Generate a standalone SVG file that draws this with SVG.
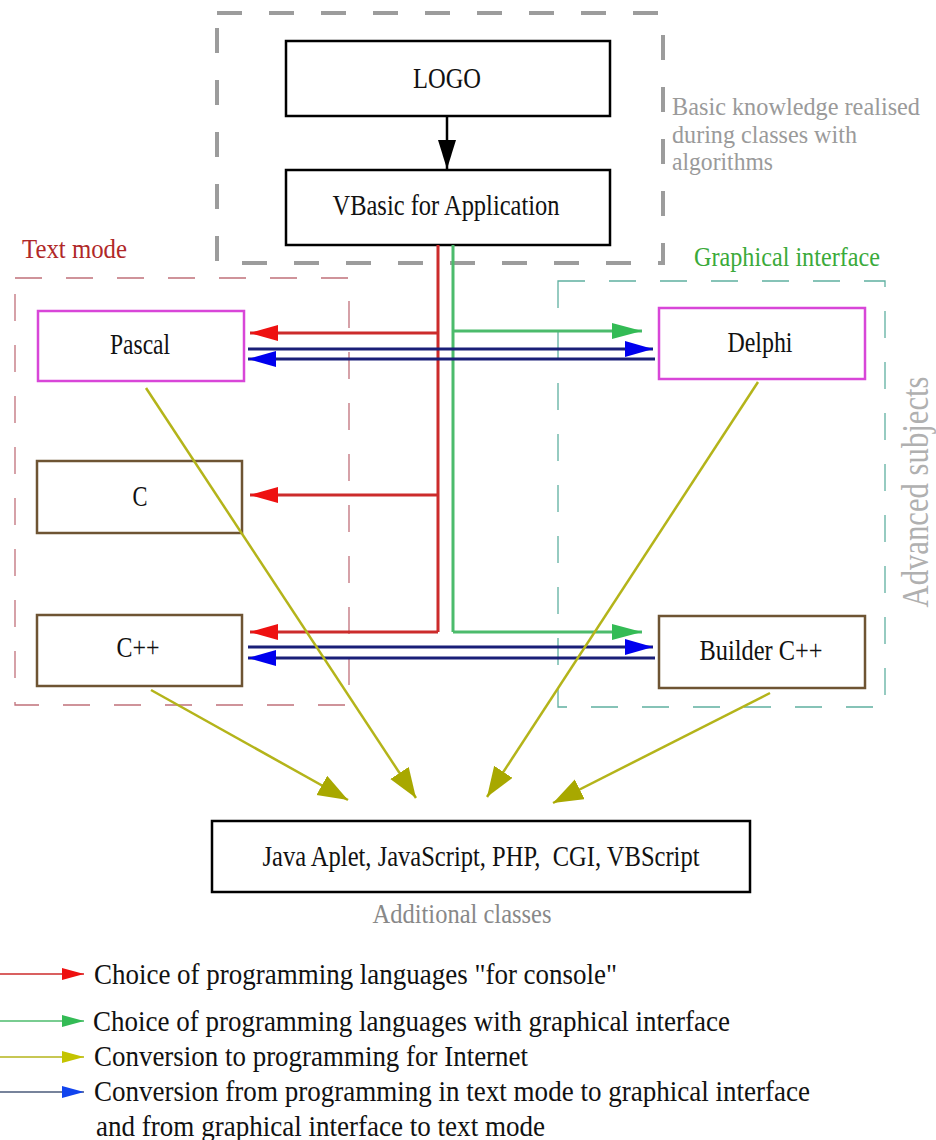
<svg xmlns="http://www.w3.org/2000/svg" width="936" height="1140" viewBox="0 0 936 1140">
<style>
text{font-family:"Liberation Serif","Times New Roman",serif;}
.lbl{font-size:30px;fill:#111;text-anchor:middle;}
.node{fill:#fff;stroke-width:2.5;}
.blk{stroke:#000;}
.mag{stroke:#d846d8;}
.brn{stroke:#6e5433;}
.red{stroke:#cc2b2b;stroke-width:3;fill:none;}
.grn{stroke:#4cbb6c;stroke-width:3;fill:none;}
.blu{stroke:#1a1f78;stroke-width:3;fill:none;}
.olv{stroke:#b4b41a;stroke-width:2.5;fill:none;}
.leg{font-size:29px;fill:#111;}
</style>
<defs>
<marker id="aRed" markerUnits="userSpaceOnUse" markerWidth="30" markerHeight="18" refX="28" refY="8" orient="auto"><path d="M0,0 L28,8 L0,16 z" fill="#ee1111"/></marker>
<marker id="aGrn" markerUnits="userSpaceOnUse" markerWidth="32" markerHeight="18" refX="30" refY="8" orient="auto"><path d="M0,0 L30,8 L0,16 z" fill="#33bb55"/></marker>
<marker id="aBlu" markerUnits="userSpaceOnUse" markerWidth="30" markerHeight="18" refX="28" refY="8" orient="auto"><path d="M0,0 L28,8 L0,16 z" fill="#0000ee"/></marker>
<marker id="aOlv" markerUnits="userSpaceOnUse" markerWidth="32" markerHeight="24" refX="30" refY="11" orient="auto"><path d="M0,0 L30,11 L0,22 z" fill="#a8a800"/></marker>
<marker id="aBlk" markerUnits="userSpaceOnUse" markerWidth="32" markerHeight="20" refX="29" refY="9" orient="auto"><path d="M0,0 L29,9 L0,18 z" fill="#000"/></marker>
<marker id="lRed" markerUnits="userSpaceOnUse" markerWidth="24" markerHeight="14" refX="22" refY="6" orient="auto"><path d="M0,0 L22,6 L0,12 z" fill="#ee1111"/></marker>
<marker id="lGrn" markerUnits="userSpaceOnUse" markerWidth="24" markerHeight="14" refX="22" refY="6" orient="auto"><path d="M0,0 L22,6 L0,12 z" fill="#33bb55"/></marker>
<marker id="lOlv" markerUnits="userSpaceOnUse" markerWidth="24" markerHeight="14" refX="22" refY="6" orient="auto"><path d="M0,0 L22,6 L0,12 z" fill="#c4c400"/></marker>
<marker id="lBlu" markerUnits="userSpaceOnUse" markerWidth="24" markerHeight="14" refX="22" refY="6" orient="auto"><path d="M0,0 L22,6 L0,12 z" fill="#1144ee"/></marker>
</defs>
<rect width="936" height="1140" fill="#fff"/>

<g id="groups">
<rect x="217" y="13" width="446" height="250" fill="none" stroke="#9c9c9c" stroke-width="4" stroke-dasharray="25 27"/>
<rect x="15" y="278" width="334" height="427" fill="none" stroke="#c0707a" stroke-width="1.3" stroke-dasharray="27 24"/>
<rect x="558" y="281" width="327" height="426" fill="none" stroke="#5fb0a0" stroke-width="1.3" stroke-dasharray="27 24"/>
<text x="22" y="258" font-size="27" fill="#b02828" textLength="105" lengthAdjust="spacingAndGlyphs">Text mode</text>
<text x="694" y="266" font-size="27" fill="#3aaa3a" textLength="186" lengthAdjust="spacingAndGlyphs">Graphical interface</text>
<text transform="translate(928,492) rotate(-90)" font-size="38" fill="#b0b0b0" text-anchor="middle" textLength="231" lengthAdjust="spacingAndGlyphs">Advanced subjects</text>
<text x="672" y="115" font-size="26" fill="#9a9a9a" textLength="248" lengthAdjust="spacingAndGlyphs">Basic knowledge realised</text>
<text x="672" y="143" font-size="26" fill="#9a9a9a" textLength="185" lengthAdjust="spacingAndGlyphs">during classes with</text>
<text x="672" y="170" font-size="26" fill="#9a9a9a" textLength="101" lengthAdjust="spacingAndGlyphs">algorithms</text>
<text x="462" y="923" font-size="27" fill="#888" text-anchor="middle" textLength="179" lengthAdjust="spacingAndGlyphs">Additional classes</text>
</g>

<g id="n-logo"><rect class="node blk" x="286" y="41" width="324" height="75"/><text class="lbl" x="447" y="88" textLength="68" lengthAdjust="spacingAndGlyphs">LOGO</text></g>
<g id="n-vba"><rect class="node blk" x="286" y="170" width="324" height="75"/><text class="lbl" x="446" y="215" textLength="227" lengthAdjust="spacingAndGlyphs">VBasic for Application</text></g>
<g id="n-pascal"><rect class="node mag" x="38" y="311" width="206" height="70"/><text class="lbl" x="140" y="354" textLength="60" lengthAdjust="spacingAndGlyphs">Pascal</text></g>
<g id="n-c"><rect class="node brn" x="37" y="461" width="205" height="72"/><text class="lbl" x="140" y="506" textLength="15" lengthAdjust="spacingAndGlyphs">C</text></g>
<g id="n-cpp"><rect class="node brn" x="37" y="615" width="205" height="71"/><text class="lbl" x="138" y="657" textLength="43" lengthAdjust="spacingAndGlyphs">C++</text></g>
<g id="n-delphi"><rect class="node mag" x="659" y="308" width="206" height="71"/><text class="lbl" x="760" y="352" textLength="65" lengthAdjust="spacingAndGlyphs">Delphi</text></g>
<g id="n-builder"><rect class="node brn" x="659" y="616" width="206" height="72"/><text class="lbl" x="761" y="660" textLength="123" lengthAdjust="spacingAndGlyphs">Builder C++</text></g>
<g id="n-web"><rect class="node blk" x="212" y="821" width="538" height="71"/><text class="lbl" x="481" y="866" xml:space="preserve" textLength="437" lengthAdjust="spacingAndGlyphs">Java Aplet, JavaScript, PHP,  CGI, VBScript</text></g>

<g id="connectors">
<line x1="447" y1="116" x2="447" y2="169" stroke="#000" stroke-width="2.5" marker-end="url(#aBlk)"/>
<path class="red" d="M438,245 V632"/>
<path class="red" d="M438,333 H250" marker-end="url(#aRed)"/>
<path class="red" d="M438,495 H250" marker-end="url(#aRed)"/>
<path class="red" d="M438,632 H250" marker-end="url(#aRed)"/>
<path class="grn" d="M453,245 V632"/>
<path class="grn" d="M453,331 H642" marker-end="url(#aGrn)"/>
<path class="grn" d="M453,632 H642" marker-end="url(#aGrn)"/>
<path class="blu" d="M248,349 H653" marker-end="url(#aBlu)"/>
<path class="blu" d="M655,359 H248" marker-end="url(#aBlu)"/>
<path class="blu" d="M248,647 H653" marker-end="url(#aBlu)"/>
<path class="blu" d="M655,658 H248" marker-end="url(#aBlu)"/>
<path class="olv" d="M146,388 L416,798" marker-end="url(#aOlv)"/>
<path class="olv" d="M151,690 L348,800" marker-end="url(#aOlv)"/>
<path class="olv" d="M758,382 L487,797" marker-end="url(#aOlv)"/>
<path class="olv" d="M770,693 L553,803" marker-end="url(#aOlv)"/>
</g>

<g id="legend">
<line x1="0" y1="974" x2="84" y2="974" stroke="#cc2b2b" stroke-width="1.5" marker-end="url(#lRed)"/>
<line x1="0" y1="1021" x2="84" y2="1021" stroke="#4cbb6c" stroke-width="1.5" marker-end="url(#lGrn)"/>
<line x1="0" y1="1057" x2="84" y2="1057" stroke="#b4b41a" stroke-width="1.5" marker-end="url(#lOlv)"/>
<line x1="0" y1="1092" x2="84" y2="1092" stroke="#4a5a7a" stroke-width="1.5" marker-end="url(#lBlu)"/>
<text class="leg" x="94" y="984" textLength="523" lengthAdjust="spacingAndGlyphs">Choice of programming languages "for console"</text>
<text class="leg" x="93" y="1031" textLength="637" lengthAdjust="spacingAndGlyphs">Choice of programming languages with graphical interface</text>
<text class="leg" x="94" y="1066" textLength="434" lengthAdjust="spacingAndGlyphs">Conversion to programming for Internet</text>
<text class="leg" x="94" y="1101" textLength="716" lengthAdjust="spacingAndGlyphs">Conversion from programming in text mode to graphical interface</text>
<text class="leg" x="96" y="1136" textLength="449" lengthAdjust="spacingAndGlyphs">and from graphical interface to text mode</text>
</g>
</svg>
